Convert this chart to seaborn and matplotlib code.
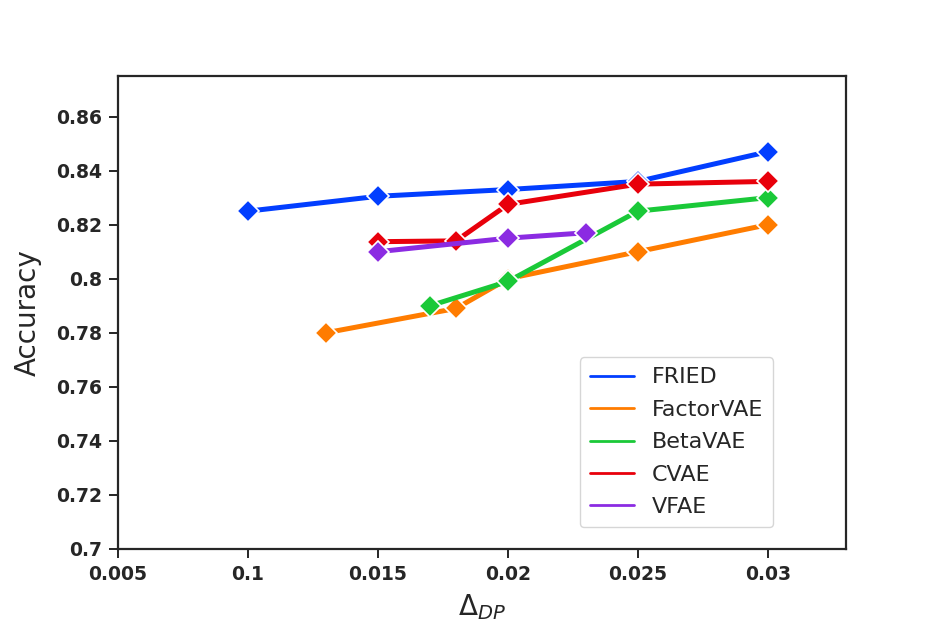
import matplotlib
matplotlib.use("Agg")
import matplotlib.pyplot as plt
import seaborn as sns
import pandas as pd

methods = ["FRIED", "FactorVAE", "BetaVAE", "CVAE", "VFAE"]
fried_x = [0.010, 0.015, 0.020, 0.025, 0.030]
fried_y = [0.825, 0.8305, 0.833, 0.836, 0.847]
factor_x = [0.013, 0.018, 0.020, 0.025, 0.030]
factor_y = [0.780, 0.789, 0.800, 0.810, 0.820]
beta_x = [0.017, 0.020, 0.025, 0.030]
beta_y = [0.790, 0.799, 0.825, 0.830]
cvae_x = [0.015, 0.018, 0.020, 0.025, 0.030]
cvae_y = [0.8137, 0.814, 0.8275, 0.835, 0.836]
vfae_x = [0.015, 0.020, 0.023]
vfae_y = [0.810, 0.815, 0.817]

x_ticks = [0.005, 0.010, 0.015, 0.020, 0.025, 0.030]
x_tick_labels = ["0.005", "0.1", "0.015", "0.02", "0.025", "0.03"]
y_ticks = [0.70, 0.72, 0.74, 0.76, 0.78, 0.80, 0.82, 0.84, 0.86]
y_tick_labels = ["0.7", "0.72", "0.74", "0.76", "0.78", "0.8", "0.82", "0.84", "0.86"]

xs = [fried_x, factor_x, beta_x, cvae_x, vfae_x]
ys = [fried_y, factor_y, beta_y, cvae_y, vfae_y]
rows = []
for m, xv, yv in zip(methods, xs, ys):
    for a, b in zip(xv, yv):
        rows.append({"method": m, "dp": a, "acc": b})
df = pd.DataFrame(rows)

sns.set_theme(style="ticks")
plt.rcParams["font.family"] = ["DejaVu Sans"]
palette = sns.color_palette("bright", 5)

fig = plt.figure(figsize=(9.42, 6.29), dpi=100)
ax = fig.add_axes([118 / 942, 1 - 549 / 629, (846 - 118) / 942, (549 - 76) / 629])

for i, m in enumerate(methods):
    sub = df[df.method == m]
    sns.lineplot(data=sub, x="dp", y="acc", ax=ax, color=palette[i], label=m,
                 linewidth=3.6, marker="D", markersize=11.5,
                 markeredgecolor="white", markeredgewidth=1.2)

ax.set_xlim(0.005, 0.033)
ax.set_ylim(0.70, 0.875)
ax.set_xticks(x_ticks)
ax.set_xticklabels(x_tick_labels, fontsize=13.5, fontweight="bold")
ax.set_yticks(y_ticks)
ax.set_yticklabels(y_tick_labels, fontsize=13.5, fontweight="bold")
ax.tick_params(axis="both", length=6.5, width=1.4, color="#262626", pad=5)
for s in ax.spines.values():
    s.set_linewidth(1.6)
    s.set_color("#262626")

ax.set_xlabel(r"$\Delta_{DP}$", fontsize=20, labelpad=6)
ax.set_ylabel("Accuracy", fontsize=20, labelpad=10)

leg = ax.legend(loc="lower right", bbox_to_anchor=(0.9, 0.046), borderaxespad=0,
                fontsize=16, frameon=True, handlelength=2.0, labelspacing=0.56,
                handletextpad=0.8, borderpad=0.45)
for h in leg.legend_handles:
    h.set_marker("")
    h.set_linewidth(2)

fig.savefig("out.png", dpi=100)
